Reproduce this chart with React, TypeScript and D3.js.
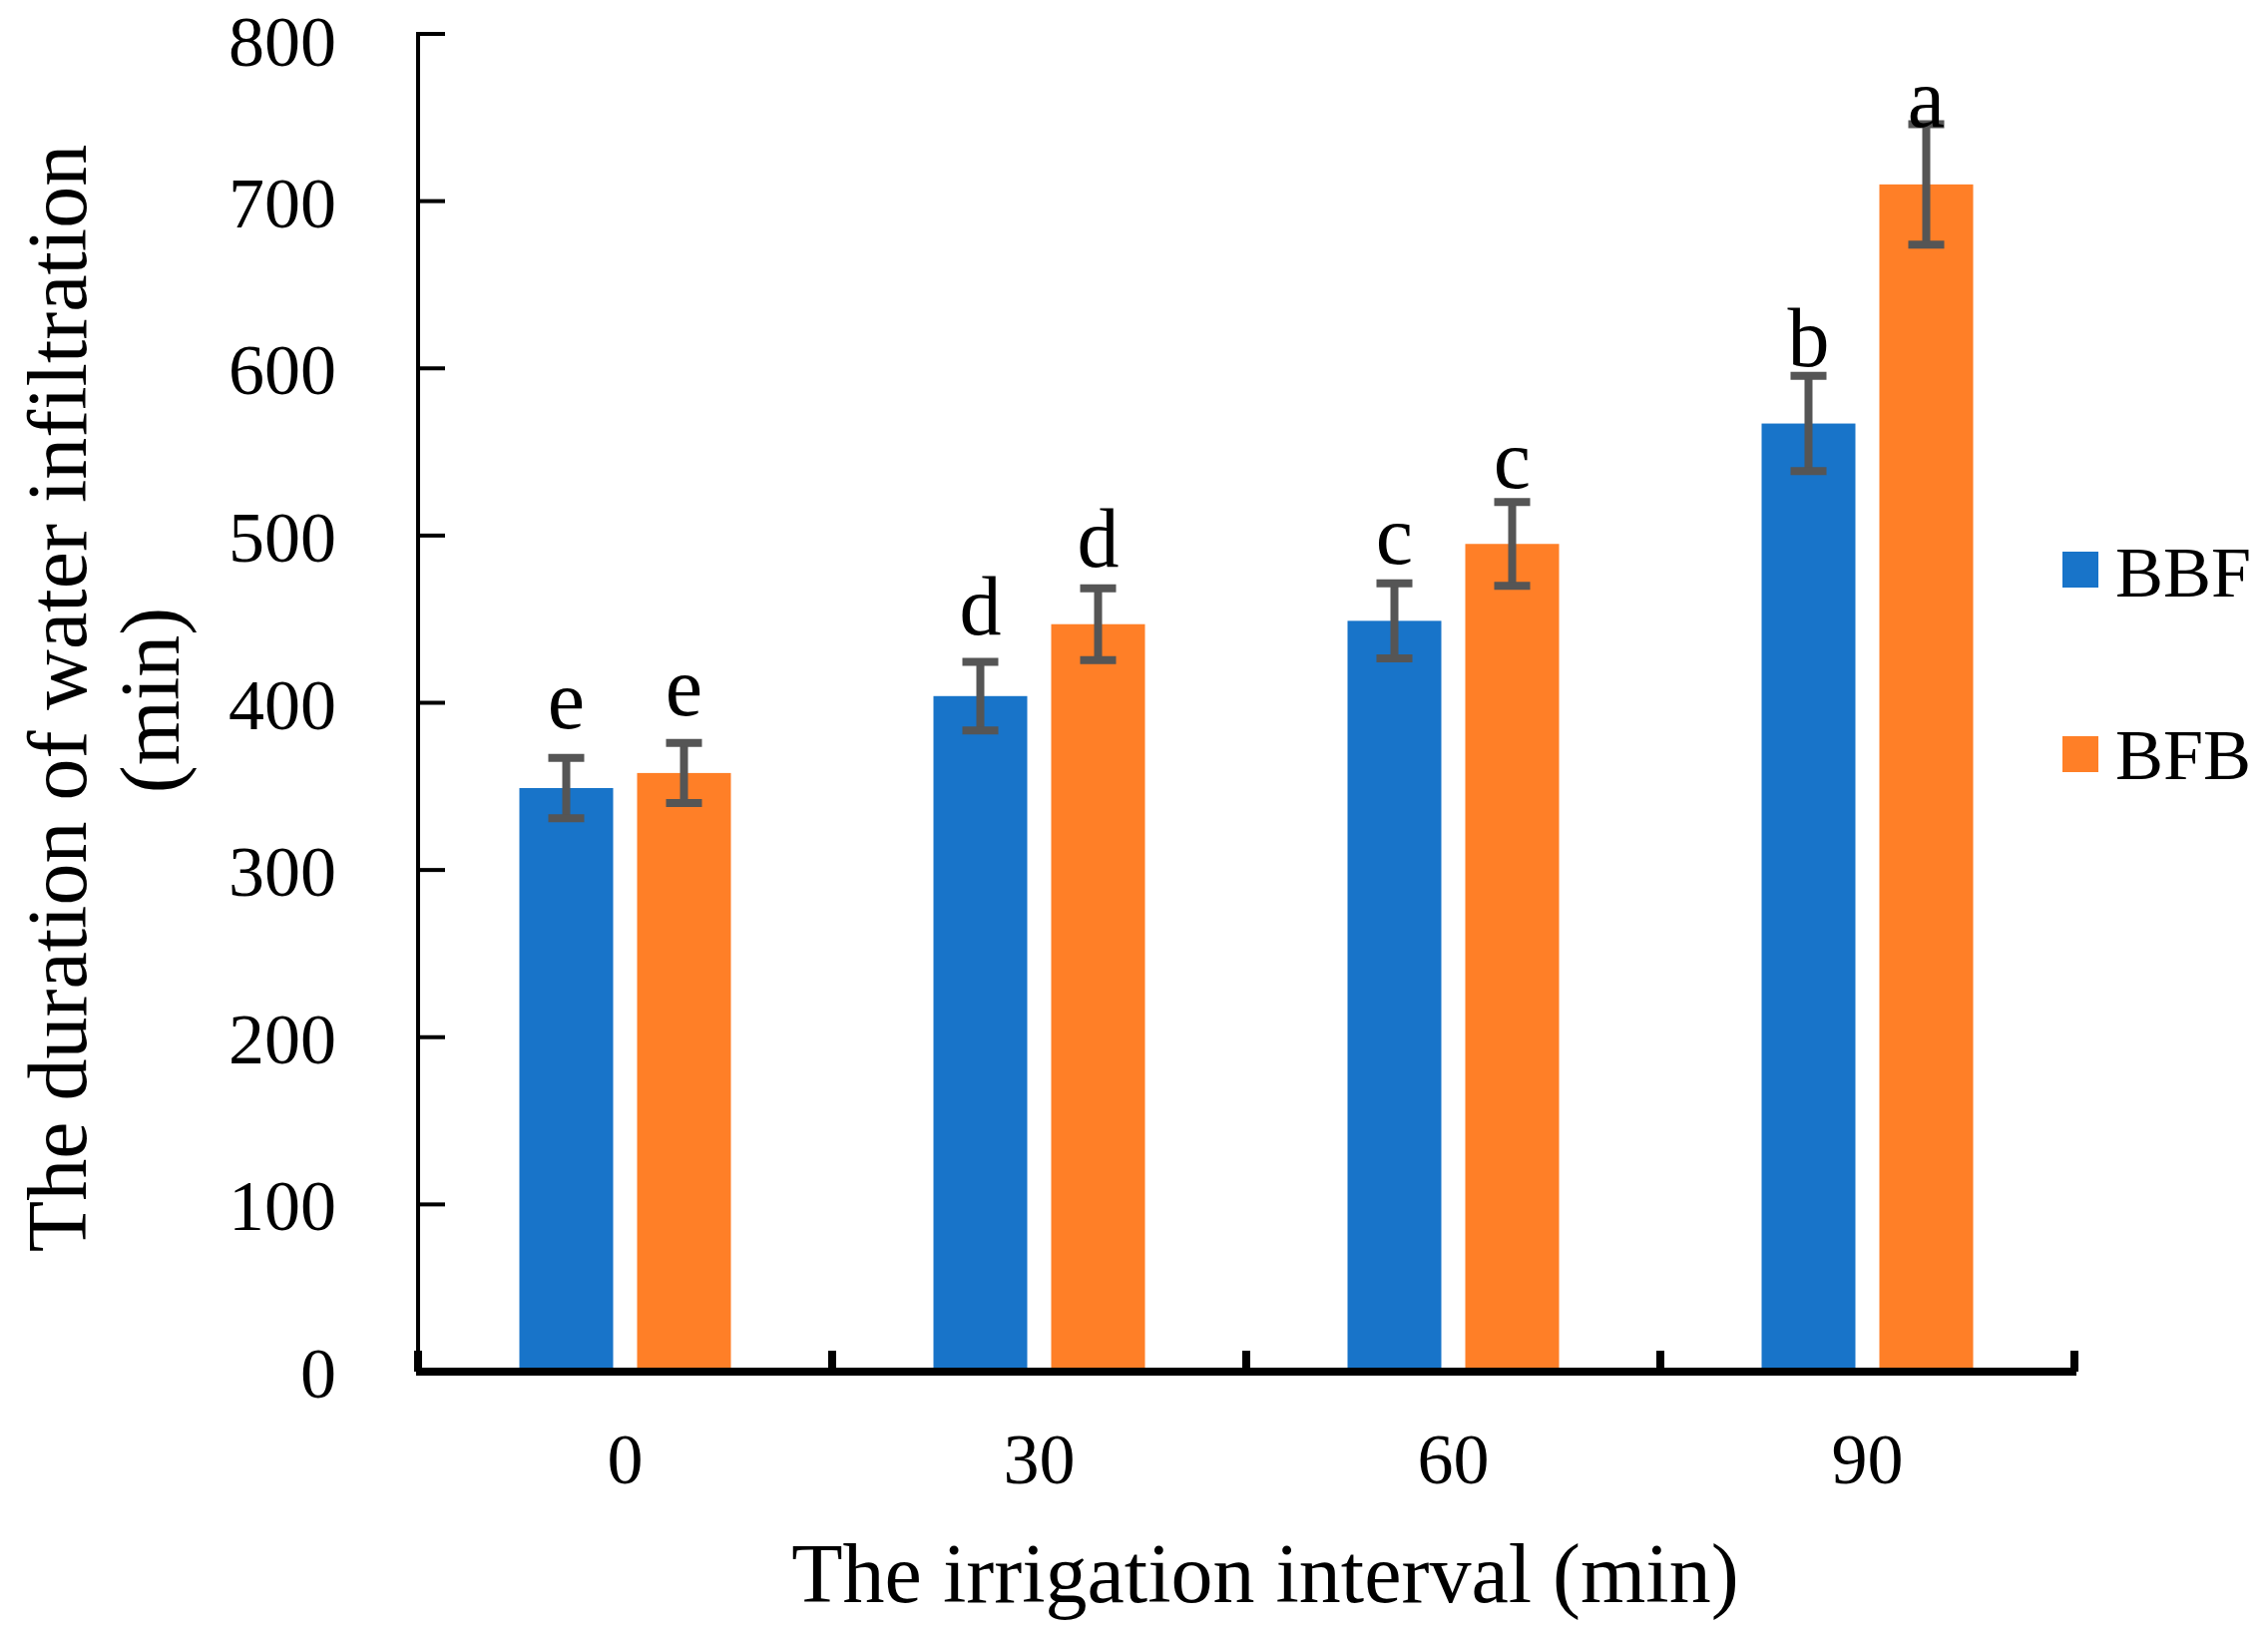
import React, { useEffect } from "react";
import * as d3 from "d3";

const categories = ["0", "30", "60", "90"];
const seriesNames = ["BBF", "BFB"];
const bbfValues = [349, 404, 449, 567];
const bfbValues = [358, 447, 495, 710];
const bbfErrors = [18, 20.5, 22.5, 28.5];
const bfbErrors = [18, 21.5, 25, 36];
const bbfLetters = ["e", "d", "c", "b"];
const bfbLetters = ["e", "d", "c", "a"];
const yTicks = [0, 100, 200, 300, 400, 500, 600, 700, 800];

// style: vertical offset of letter baseline relative to error bar top (px)
const bbfLetterGap = [-30, -27, -20, -10];
const bfbLetterGap = [-28, -22, -14, 2];

const W = 2273;
const H = 1636;
const FONT = "'Liberation Serif', 'Times New Roman', serif";
const COLORS = ["#1874C9", "#FF7F27"];
const ERR = "#555555";

export default function App() {
  useEffect(() => {
    document.body.style.margin = "0";
  }, []);

  const left = 419;
  const right = 2079;
  const top = 34;
  const bottom = 1375;

  const y = d3.scaleLinear().domain([0, 800]).range([bottom, top]);
  const x0 = d3.scaleBand<string>().domain(categories).range([left, right]).paddingInner(0).paddingOuter(0);
  const gw = x0.bandwidth();
  const inner = 212;
  const x1 = d3
    .scaleBand<string>()
    .domain(seriesNames)
    .range([(gw - inner) / 2, (gw + inner) / 2])
    .paddingInner(0.2034)
    .paddingOuter(0);

  const series = [
    { name: "BBF", values: bbfValues, errors: bbfErrors, letters: bbfLetters, gaps: bbfLetterGap, color: COLORS[0] },
    { name: "BFB", values: bfbValues, errors: bfbErrors, letters: bfbLetters, gaps: bfbLetterGap, color: COLORS[1] },
  ];

  const capW = 36;
  const boundaries = [...categories.map((c) => x0(c)!), right];

  return (
    <svg width={W} height={H} style={{ display: "block", background: "#fff" }} fontFamily={FONT}>
      <rect x={0} y={0} width={W} height={H} fill="#fff" />
      {/* bars */}
      {series.map((s) =>
        categories.map((c, i) => {
          const bx = x0(c)! + x1(s.name)!;
          return (
            <rect
              key={s.name + c}
              x={bx}
              y={y(s.values[i])}
              width={x1.bandwidth()}
              height={bottom - y(s.values[i])}
              fill={s.color}
            />
          );
        })
      )}
      {/* error bars and letters */}
      {series.map((s) =>
        categories.map((c, i) => {
          const cx = x0(c)! + x1(s.name)! + x1.bandwidth() / 2;
          const yt = y(s.values[i] + s.errors[i]);
          const yb = y(s.values[i] - s.errors[i]);
          return (
            <g key={"e" + s.name + c}>
              <line x1={cx} x2={cx} y1={yt} y2={yb} stroke={ERR} strokeWidth={8} />
              <line x1={cx - capW / 2} x2={cx + capW / 2} y1={yt} y2={yt} stroke={ERR} strokeWidth={8} />
              <line x1={cx - capW / 2} x2={cx + capW / 2} y1={yb} y2={yb} stroke={ERR} strokeWidth={8} />
              <text x={cx} y={yt + s.gaps[i]} textAnchor="middle" fontSize={84} fill="#000">
                {s.letters[i]}
              </text>
            </g>
          );
        })
      )}
      {/* y axis */}
      <line x1={left} x2={left} y1={top - 2} y2={bottom} stroke="#000" strokeWidth={4} />
      {yTicks.map((t) => (
        <g key={"yt" + t}>
          <line x1={left} x2={left + 27} y1={y(t)} y2={y(t)} stroke="#000" strokeWidth={4} />
          <text x={337} y={Math.max(y(t) + 26, 66)} textAnchor="end" fontSize={72} fill="#000">
            {t}
          </text>
        </g>
      ))}
      {/* x axis */}
      <line x1={left - 2} x2={right + 2} y1={bottom} y2={bottom} stroke="#000" strokeWidth={8} />
      {boundaries.map((bx, i) => (
        <line key={"xt" + i} x1={bx} x2={bx} y1={bottom} y2={bottom - 21} stroke="#000" strokeWidth={8} />
      ))}
      {categories.map((c) => (
        <text key={"xl" + c} x={x0(c)! + gw / 2} y={1487} textAnchor="middle" fontSize={72} fill="#000">
          {c}
        </text>
      ))}
      {/* axis titles */}
      <text x={1268} y={1606} textAnchor="middle" fontSize={84} fill="#000">
        The irrigation interval (min)
      </text>
      <text transform="translate(86,700) rotate(-90)" textAnchor="middle" fontSize={84} fill="#000">
        The duration of water infiltration
      </text>
      <text transform="translate(179,702) rotate(-90)" textAnchor="middle" fontSize={84} fill="#000">
        (min)
      </text>
      {/* legend */}
      {series.map((s, i) => (
        <g key={"lg" + s.name}>
          <rect x={2067} y={553 + i * 185} width={36} height={36} fill={s.color} />
          <text x={2120} y={598 + i * 183} fontSize={72} fill="#000">
            {s.name}
          </text>
        </g>
      ))}
    </svg>
  );
}
